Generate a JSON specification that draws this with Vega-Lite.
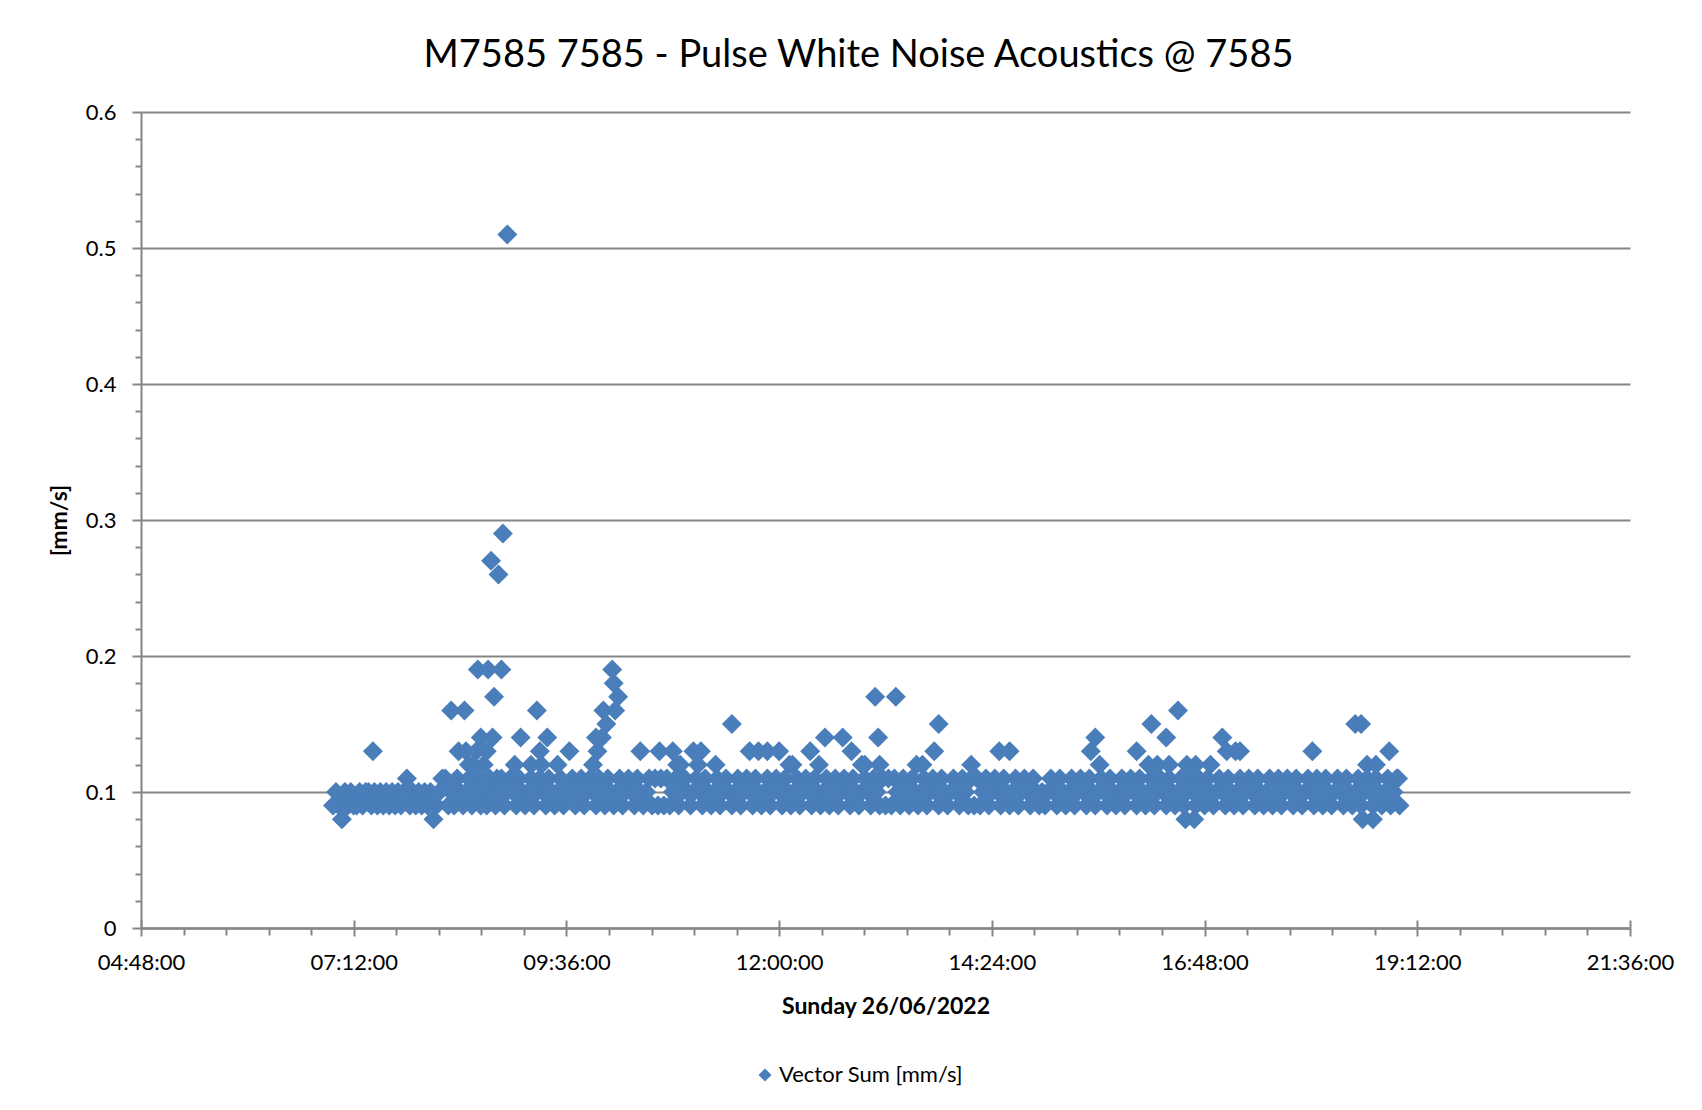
{
"$schema":"https://vega.github.io/schema/vega-lite/v6.json",
"width":1489,"height":816,
"autosize":{"type":"none"},
"padding":{"left":141,"top":112,"right":72,"bottom":182},
"background":"white",
"config":{"view":{"stroke":null},"font":"Lato","axis":{"labelColor":"#000000","titleColor":"#000000","domainColor":"#868686","tickColor":"#868686"}},
"title":{"text":"M7585 7585 - Pulse White Noise Acoustics @ 7585","fontSize":38,"fontWeight":"normal","font":"Lato","color":"#000000","anchor":"middle","dx":-27,"offset":26},
"data":{"format":{"parse":{"t":"date:'%H:%M'"}},"values":[
{"t":"06:58","v":0.09},
{"t":"07:00","v":0.10},{"t":"07:02","v":0.09},{"t":"07:04","v":0.09},{"t":"07:06","v":0.10},{"t":"07:08","v":0.09},{"t":"07:10","v":0.10},{"t":"07:12","v":0.09},{"t":"07:14","v":0.09},{"t":"07:16","v":0.10},{"t":"07:18","v":0.09},{"t":"07:20","v":0.10},{"t":"07:22","v":0.10},{"t":"07:24","v":0.09},{"t":"07:26","v":0.10},{"t":"07:28","v":0.09},{"t":"07:30","v":0.10},{"t":"07:32","v":0.09},{"t":"07:34","v":0.10},{"t":"07:36","v":0.09},{"t":"07:38","v":0.10},{"t":"07:40","v":0.09},{"t":"07:42","v":0.10},{"t":"07:44","v":0.09},{"t":"07:46","v":0.10},{"t":"07:48","v":0.11},{"t":"07:50","v":0.09},{"t":"07:52","v":0.10},{"t":"07:54","v":0.09},{"t":"07:56","v":0.10},{"t":"07:58","v":0.09},
{"t":"08:00","v":0.10},{"t":"08:02","v":0.09},{"t":"08:04","v":0.10},{"t":"08:06","v":0.08},{"t":"08:08","v":0.09},{"t":"08:10","v":0.10},{"t":"08:12","v":0.11},{"t":"08:14","v":0.11},{"t":"08:16","v":0.09},{"t":"08:18","v":0.10},{"t":"08:20","v":0.09},{"t":"08:22","v":0.11},{"t":"08:24","v":0.10},{"t":"08:26","v":0.09},{"t":"08:28","v":0.10},{"t":"08:30","v":0.11},{"t":"08:32","v":0.09},{"t":"08:34","v":0.10},{"t":"08:36","v":0.11},{"t":"08:38","v":0.09},{"t":"08:40","v":0.10},{"t":"08:42","v":0.09},{"t":"08:44","v":0.11},{"t":"08:46","v":0.10},{"t":"08:48","v":0.09},{"t":"08:50","v":0.10},{"t":"08:52","v":0.11},{"t":"08:54","v":0.09},{"t":"08:56","v":0.10},{"t":"08:58","v":0.11},
{"t":"09:00","v":0.10},{"t":"09:02","v":0.09},{"t":"09:04","v":0.11},{"t":"09:06","v":0.10},{"t":"09:08","v":0.09},{"t":"09:10","v":0.10},{"t":"09:12","v":0.11},{"t":"09:14","v":0.09},{"t":"09:16","v":0.10},{"t":"09:18","v":0.11},{"t":"09:20","v":0.10},{"t":"09:22","v":0.09},{"t":"09:24","v":0.11},{"t":"09:26","v":0.10},{"t":"09:28","v":0.09},{"t":"09:30","v":0.10},{"t":"09:32","v":0.11},{"t":"09:34","v":0.09},{"t":"09:36","v":0.10},{"t":"09:38","v":0.10},{"t":"09:40","v":0.11},{"t":"09:42","v":0.09},{"t":"09:44","v":0.10},{"t":"09:46","v":0.11},{"t":"09:48","v":0.09},{"t":"09:50","v":0.10},{"t":"09:52","v":0.11},{"t":"09:54","v":0.10},{"t":"09:56","v":0.09},{"t":"09:58","v":0.11},
{"t":"10:00","v":0.10},{"t":"10:02","v":0.09},{"t":"10:04","v":0.11},{"t":"10:06","v":0.10},{"t":"10:08","v":0.09},{"t":"10:10","v":0.10},{"t":"10:12","v":0.11},{"t":"10:14","v":0.09},{"t":"10:16","v":0.10},{"t":"10:18","v":0.11},{"t":"10:20","v":0.10},{"t":"10:22","v":0.09},{"t":"10:24","v":0.11},{"t":"10:26","v":0.10},{"t":"10:28","v":0.09},{"t":"10:30","v":0.10},{"t":"10:32","v":0.11},{"t":"10:34","v":0.09},{"t":"10:36","v":0.11},{"t":"10:38","v":0.09},{"t":"10:40","v":0.11},{"t":"10:42","v":0.09},{"t":"10:44","v":0.11},{"t":"10:46","v":0.09},{"t":"10:48","v":0.10},{"t":"10:50","v":0.11},{"t":"10:52","v":0.09},{"t":"10:54","v":0.10},{"t":"10:56","v":0.11},{"t":"10:58","v":0.10},
{"t":"11:00","v":0.09},{"t":"11:02","v":0.10},{"t":"11:04","v":0.11},{"t":"11:06","v":0.10},{"t":"11:08","v":0.09},{"t":"11:10","v":0.11},{"t":"11:12","v":0.10},{"t":"11:14","v":0.09},{"t":"11:16","v":0.10},{"t":"11:18","v":0.11},{"t":"11:20","v":0.09},{"t":"11:22","v":0.10},{"t":"11:24","v":0.11},{"t":"11:26","v":0.10},{"t":"11:28","v":0.09},{"t":"11:30","v":0.10},{"t":"11:32","v":0.11},{"t":"11:34","v":0.09},{"t":"11:36","v":0.10},{"t":"11:38","v":0.11},{"t":"11:40","v":0.10},{"t":"11:42","v":0.09},{"t":"11:44","v":0.11},{"t":"11:46","v":0.10},{"t":"11:48","v":0.09},{"t":"11:50","v":0.10},{"t":"11:52","v":0.11},{"t":"11:54","v":0.09},{"t":"11:56","v":0.10},{"t":"11:58","v":0.11},
{"t":"12:00","v":0.10},{"t":"12:02","v":0.09},{"t":"12:04","v":0.11},{"t":"12:06","v":0.10},{"t":"12:08","v":0.09},{"t":"12:10","v":0.10},{"t":"12:12","v":0.11},{"t":"12:14","v":0.09},{"t":"12:16","v":0.10},{"t":"12:18","v":0.11},{"t":"12:20","v":0.10},{"t":"12:22","v":0.09},{"t":"12:24","v":0.11},{"t":"12:26","v":0.10},{"t":"12:28","v":0.09},{"t":"12:30","v":0.10},{"t":"12:32","v":0.11},{"t":"12:34","v":0.09},{"t":"12:36","v":0.10},{"t":"12:38","v":0.11},{"t":"12:40","v":0.09},{"t":"12:42","v":0.10},{"t":"12:44","v":0.11},{"t":"12:46","v":0.10},{"t":"12:48","v":0.09},{"t":"12:50","v":0.11},{"t":"12:52","v":0.10},{"t":"12:54","v":0.09},{"t":"12:56","v":0.10},{"t":"12:58","v":0.11},
{"t":"13:00","v":0.10},{"t":"13:02","v":0.09},{"t":"13:04","v":0.11},{"t":"13:06","v":0.10},{"t":"13:08","v":0.09},{"t":"13:10","v":0.11},{"t":"13:12","v":0.09},{"t":"13:14","v":0.11},{"t":"13:16","v":0.09},{"t":"13:18","v":0.11},{"t":"13:20","v":0.10},{"t":"13:22","v":0.09},{"t":"13:24","v":0.11},{"t":"13:26","v":0.10},{"t":"13:28","v":0.09},{"t":"13:30","v":0.11},{"t":"13:32","v":0.10},{"t":"13:34","v":0.09},{"t":"13:36","v":0.10},{"t":"13:38","v":0.11},{"t":"13:40","v":0.09},{"t":"13:42","v":0.10},{"t":"13:44","v":0.11},{"t":"13:46","v":0.10},{"t":"13:48","v":0.09},{"t":"13:50","v":0.11},{"t":"13:52","v":0.10},{"t":"13:54","v":0.09},{"t":"13:56","v":0.10},{"t":"13:58","v":0.11},
{"t":"14:00","v":0.10},{"t":"14:02","v":0.09},{"t":"14:04","v":0.11},{"t":"14:06","v":0.10},{"t":"14:08","v":0.09},{"t":"14:10","v":0.11},{"t":"14:12","v":0.09},{"t":"14:14","v":0.11},{"t":"14:16","v":0.09},{"t":"14:18","v":0.10},{"t":"14:20","v":0.11},{"t":"14:22","v":0.09},{"t":"14:24","v":0.10},{"t":"14:26","v":0.11},{"t":"14:28","v":0.10},{"t":"14:30","v":0.09},{"t":"14:32","v":0.11},{"t":"14:34","v":0.10},{"t":"14:36","v":0.09},{"t":"14:38","v":0.10},{"t":"14:40","v":0.11},{"t":"14:42","v":0.09},{"t":"14:44","v":0.10},{"t":"14:46","v":0.11},{"t":"14:48","v":0.10},{"t":"14:50","v":0.09},{"t":"14:52","v":0.11},{"t":"14:54","v":0.10},{"t":"14:56","v":0.09},{"t":"14:58","v":0.10},
{"t":"15:00","v":0.09},{"t":"15:02","v":0.10},{"t":"15:04","v":0.11},{"t":"15:06","v":0.10},{"t":"15:08","v":0.09},{"t":"15:10","v":0.11},{"t":"15:12","v":0.10},{"t":"15:14","v":0.09},{"t":"15:16","v":0.10},{"t":"15:18","v":0.11},{"t":"15:20","v":0.09},{"t":"15:22","v":0.10},{"t":"15:24","v":0.11},{"t":"15:26","v":0.10},{"t":"15:28","v":0.09},{"t":"15:30","v":0.11},{"t":"15:32","v":0.10},{"t":"15:34","v":0.09},{"t":"15:36","v":0.10},{"t":"15:38","v":0.11},{"t":"15:40","v":0.10},{"t":"15:42","v":0.09},{"t":"15:44","v":0.11},{"t":"15:46","v":0.10},{"t":"15:48","v":0.09},{"t":"15:50","v":0.10},{"t":"15:52","v":0.11},{"t":"15:54","v":0.09},{"t":"15:56","v":0.10},{"t":"15:58","v":0.11},
{"t":"16:00","v":0.10},{"t":"16:02","v":0.09},{"t":"16:04","v":0.11},{"t":"16:06","v":0.10},{"t":"16:08","v":0.09},{"t":"16:10","v":0.10},{"t":"16:12","v":0.11},{"t":"16:14","v":0.09},{"t":"16:16","v":0.10},{"t":"16:18","v":0.11},{"t":"16:20","v":0.10},{"t":"16:22","v":0.09},{"t":"16:24","v":0.11},{"t":"16:26","v":0.10},{"t":"16:28","v":0.09},{"t":"16:30","v":0.10},{"t":"16:32","v":0.11},{"t":"16:34","v":0.09},{"t":"16:36","v":0.10},{"t":"16:38","v":0.11},{"t":"16:40","v":0.10},{"t":"16:42","v":0.09},{"t":"16:44","v":0.11},{"t":"16:46","v":0.10},{"t":"16:48","v":0.09},{"t":"16:50","v":0.11},{"t":"16:52","v":0.10},{"t":"16:54","v":0.09},{"t":"16:56","v":0.10},{"t":"16:58","v":0.11},
{"t":"17:00","v":0.10},{"t":"17:02","v":0.09},{"t":"17:04","v":0.11},{"t":"17:06","v":0.10},{"t":"17:08","v":0.09},{"t":"17:10","v":0.10},{"t":"17:12","v":0.11},{"t":"17:14","v":0.09},{"t":"17:16","v":0.10},{"t":"17:18","v":0.11},{"t":"17:20","v":0.10},{"t":"17:22","v":0.09},{"t":"17:24","v":0.11},{"t":"17:26","v":0.10},{"t":"17:28","v":0.09},{"t":"17:30","v":0.10},{"t":"17:32","v":0.11},{"t":"17:34","v":0.09},{"t":"17:36","v":0.10},{"t":"17:38","v":0.11},{"t":"17:40","v":0.09},{"t":"17:42","v":0.10},{"t":"17:44","v":0.11},{"t":"17:46","v":0.10},{"t":"17:48","v":0.09},{"t":"17:50","v":0.11},{"t":"17:52","v":0.10},{"t":"17:54","v":0.09},{"t":"17:56","v":0.10},{"t":"17:58","v":0.11},
{"t":"18:00","v":0.10},{"t":"18:02","v":0.09},{"t":"18:04","v":0.11},{"t":"18:06","v":0.10},{"t":"18:08","v":0.09},{"t":"18:10","v":0.11},{"t":"18:12","v":0.10},{"t":"18:14","v":0.09},{"t":"18:16","v":0.10},{"t":"18:18","v":0.11},{"t":"18:20","v":0.10},{"t":"18:22","v":0.09},{"t":"18:24","v":0.11},{"t":"18:26","v":0.10},{"t":"18:28","v":0.09},{"t":"18:30","v":0.10},{"t":"18:32","v":0.11},{"t":"18:34","v":0.09},{"t":"18:36","v":0.10},{"t":"18:38","v":0.11},{"t":"18:40","v":0.10},{"t":"18:42","v":0.09},{"t":"18:44","v":0.11},{"t":"18:46","v":0.10},{"t":"18:48","v":0.09},{"t":"18:50","v":0.10},{"t":"18:52","v":0.11},{"t":"18:54","v":0.09},{"t":"18:56","v":0.10},{"t":"18:58","v":0.11},
{"t":"19:00","v":0.09},
{"t":"07:04","v":0.08},{"t":"07:25","v":0.13},{"t":"08:18","v":0.16},{"t":"08:23","v":0.13},{"t":"08:27","v":0.16},{"t":"08:28","v":0.13},{"t":"08:30","v":0.12},{"t":"08:33","v":0.12},{"t":"08:35","v":0.13},{"t":"08:36","v":0.19},{"t":"08:38","v":0.14},{"t":"08:40","v":0.12},{"t":"08:42","v":0.13},{"t":"08:43","v":0.19},{"t":"08:45","v":0.27},{"t":"08:46","v":0.14},{"t":"08:47","v":0.17},{"t":"08:49","v":0.11},{"t":"08:50","v":0.26},{"t":"08:52","v":0.19},{"t":"08:53","v":0.29},{"t":"08:56","v":0.51},
{"t":"09:01","v":0.12},{"t":"09:05","v":0.14},{"t":"09:12","v":0.12},{"t":"09:16","v":0.16},{"t":"09:18","v":0.13},{"t":"09:19","v":0.12},{"t":"09:23","v":0.14},{"t":"09:30","v":0.12},{"t":"09:38","v":0.13},{"t":"09:54","v":0.12},{"t":"09:56","v":0.14},{"t":"09:57","v":0.13},
{"t":"10:00","v":0.14},{"t":"10:01","v":0.16},{"t":"10:03","v":0.15},{"t":"10:07","v":0.19},{"t":"10:08","v":0.18},{"t":"10:09","v":0.16},{"t":"10:11","v":0.17},{"t":"10:26","v":0.13},{"t":"10:39","v":0.13},{"t":"10:48","v":0.13},{"t":"10:51","v":0.12},{"t":"10:53","v":0.12},
{"t":"11:02","v":0.13},{"t":"11:05","v":0.12},{"t":"11:07","v":0.13},{"t":"11:17","v":0.12},{"t":"11:28","v":0.15},{"t":"11:40","v":0.13},{"t":"11:46","v":0.13},{"t":"11:52","v":0.13},
{"t":"12:00","v":0.13},{"t":"12:07","v":0.12},{"t":"12:09","v":0.12},{"t":"12:21","v":0.13},{"t":"12:27","v":0.12},{"t":"12:31","v":0.14},{"t":"12:43","v":0.14},{"t":"12:49","v":0.13},{"t":"12:56","v":0.12},{"t":"12:58","v":0.12},
{"t":"13:05","v":0.17},{"t":"13:07","v":0.14},{"t":"13:08","v":0.12},{"t":"13:19","v":0.17},{"t":"13:33","v":0.12},{"t":"13:37","v":0.12},{"t":"13:45","v":0.13},{"t":"13:48","v":0.15},
{"t":"14:10","v":0.12},{"t":"14:29","v":0.13},{"t":"14:36","v":0.13},
{"t":"15:31","v":0.13},{"t":"15:34","v":0.14},{"t":"15:37","v":0.12},
{"t":"16:02","v":0.13},{"t":"16:10","v":0.12},{"t":"16:12","v":0.15},{"t":"16:16","v":0.12},{"t":"16:22","v":0.14},{"t":"16:24","v":0.12},{"t":"16:30","v":0.16},{"t":"16:35","v":0.08},{"t":"16:36","v":0.12},{"t":"16:41","v":0.08},{"t":"16:42","v":0.12},{"t":"16:52","v":0.12},
{"t":"17:00","v":0.14},{"t":"17:03","v":0.13},{"t":"17:09","v":0.13},{"t":"17:12","v":0.13},
{"t":"18:01","v":0.13},{"t":"18:30","v":0.15},{"t":"18:34","v":0.15},{"t":"18:35","v":0.08},{"t":"18:38","v":0.12},{"t":"18:42","v":0.08},{"t":"18:44","v":0.12},{"t":"18:53","v":0.13},{"t":"18:59","v":0.11}
]},
"layer":[
{"mark":{"type":"point","shape":"diamond","filled":true,"size":400,"opacity":1,"strokeWidth":0},
 "encoding":{
  "x":{"field":"t","type":"temporal","title":"Sunday 26/06/2022",
   "scale":{"domain":[{"year":1900,"month":1,"date":1,"hours":4,"minutes":48},{"year":1900,"month":1,"date":1,"hours":21,"minutes":36}]},
   "axis":{"orient":"bottom","format":"%H:%M:%S","values":[
     {"year":1900,"month":1,"date":1,"hours":4,"minutes":48},{"year":1900,"month":1,"date":1,"hours":7,"minutes":12},{"year":1900,"month":1,"date":1,"hours":9,"minutes":36},{"year":1900,"month":1,"date":1,"hours":12,"minutes":0},{"year":1900,"month":1,"date":1,"hours":14,"minutes":24},{"year":1900,"month":1,"date":1,"hours":16,"minutes":48},{"year":1900,"month":1,"date":1,"hours":19,"minutes":12},{"year":1900,"month":1,"date":1,"hours":21,"minutes":36}],
    "grid":false,"domainWidth":2.5,"tickWidth":2,"tickSize":8,"labelFontSize":22,"labelPadding":16,"labelFont":"Lato","labelOverlap":false,"labelFlush":false,
    "titleFontSize":23,"titleFont":"Lato","titleFontWeight":"bold","titlePadding":22}},
  "y":{"field":"v","type":"quantitative","title":"[mm/s]",
   "scale":{"domain":[0,0.6],"nice":false,"zero":true},
   "axis":{"orient":"left","values":[0,0.1,0.2,0.3,0.4,0.5,0.6],"format":"~g","grid":true,"gridColor":"#868686","gridWidth":2,
    "domainWidth":2,"tickWidth":2,"tickSize":9,"labelFontSize":22,"labelPadding":16,"labelFont":"Lato",
    "titleFontSize":23,"titleFont":"Lato","titleFontWeight":"bold","titlePadding":14}},
  "color":{"datum":"Vector Sum [mm/s]","type":"nominal","scale":{"range":["#4a7ebb"]},
   "legend":{"title":null,"orient":"none","legendX":613,"legendY":952,"direction":"horizontal","symbolType":"diamond","symbolSize":170,"symbolStrokeWidth":0,"labelFontSize":22,"labelFont":"Lato","labelColor":"#000000","labelLimit":0,"symbolOffset":0,"labelOffset":3}}
 }},
{"mark":{"type":"point","opacity":0},
 "encoding":{
  "x":{"field":"t","type":"temporal",
   "axis":{"orient":"bottom","title":null,"labels":false,"domain":false,"grid":false,"tickWidth":2,"tickSize":7,"values":[
     {"year":1900,"month":1,"date":1,"hours":5,"minutes":16,"seconds":48},{"year":1900,"month":1,"date":1,"hours":5,"minutes":45,"seconds":36},{"year":1900,"month":1,"date":1,"hours":6,"minutes":14,"seconds":24},{"year":1900,"month":1,"date":1,"hours":6,"minutes":43,"seconds":12},
     {"year":1900,"month":1,"date":1,"hours":7,"minutes":40,"seconds":48},{"year":1900,"month":1,"date":1,"hours":8,"minutes":9,"seconds":36},{"year":1900,"month":1,"date":1,"hours":8,"minutes":38,"seconds":24},{"year":1900,"month":1,"date":1,"hours":9,"minutes":7,"seconds":12},
     {"year":1900,"month":1,"date":1,"hours":10,"minutes":4,"seconds":48},{"year":1900,"month":1,"date":1,"hours":10,"minutes":33,"seconds":36},{"year":1900,"month":1,"date":1,"hours":11,"minutes":2,"seconds":24},{"year":1900,"month":1,"date":1,"hours":11,"minutes":31,"seconds":12},
     {"year":1900,"month":1,"date":1,"hours":12,"minutes":28,"seconds":48},{"year":1900,"month":1,"date":1,"hours":12,"minutes":57,"seconds":36},{"year":1900,"month":1,"date":1,"hours":13,"minutes":26,"seconds":24},{"year":1900,"month":1,"date":1,"hours":13,"minutes":55,"seconds":12},
     {"year":1900,"month":1,"date":1,"hours":14,"minutes":52,"seconds":48},{"year":1900,"month":1,"date":1,"hours":15,"minutes":21,"seconds":36},{"year":1900,"month":1,"date":1,"hours":15,"minutes":50,"seconds":24},{"year":1900,"month":1,"date":1,"hours":16,"minutes":19,"seconds":12},
     {"year":1900,"month":1,"date":1,"hours":17,"minutes":16,"seconds":48},{"year":1900,"month":1,"date":1,"hours":17,"minutes":45,"seconds":36},{"year":1900,"month":1,"date":1,"hours":18,"minutes":14,"seconds":24},{"year":1900,"month":1,"date":1,"hours":18,"minutes":43,"seconds":12},
     {"year":1900,"month":1,"date":1,"hours":19,"minutes":40,"seconds":48},{"year":1900,"month":1,"date":1,"hours":20,"minutes":9,"seconds":36},{"year":1900,"month":1,"date":1,"hours":20,"minutes":38,"seconds":24},{"year":1900,"month":1,"date":1,"hours":21,"minutes":7,"seconds":12}]}},
  "y":{"field":"v","type":"quantitative",
   "axis":{"orient":"left","title":null,"labels":false,"domain":false,"grid":false,"tickWidth":2,"tickSize":6,"values":[0.02,0.04,0.06,0.08,0.12,0.14,0.16,0.18,0.22,0.24,0.26,0.28,0.32,0.34,0.36,0.38,0.42,0.44,0.46,0.48,0.52,0.54,0.56,0.58]}}
 }},
{"mark":{"type":"point","opacity":0},
 "encoding":{
  "x":{"field":"t","type":"temporal",
   "axis":{"orient":"bottom","title":null,"labels":false,"domain":false,"grid":false,"tickWidth":2,"tickSize":-8,"values":[
     {"year":1900,"month":1,"date":1,"hours":4,"minutes":48},{"year":1900,"month":1,"date":1,"hours":7,"minutes":12},{"year":1900,"month":1,"date":1,"hours":9,"minutes":36},{"year":1900,"month":1,"date":1,"hours":12,"minutes":0},{"year":1900,"month":1,"date":1,"hours":14,"minutes":24},{"year":1900,"month":1,"date":1,"hours":16,"minutes":48},{"year":1900,"month":1,"date":1,"hours":19,"minutes":12},{"year":1900,"month":1,"date":1,"hours":21,"minutes":36}]}},
  "y":{"field":"v","type":"quantitative","axis":null}
 }}
],
"resolve":{"axis":{"x":"independent","y":"independent"}}
}
